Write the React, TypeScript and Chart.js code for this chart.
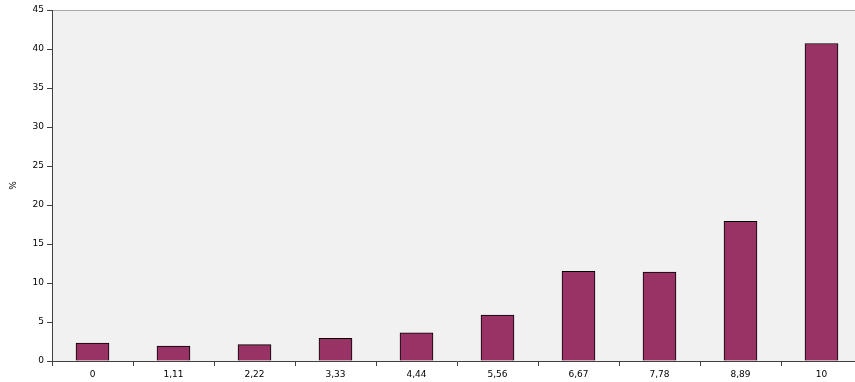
import { useEffect, useRef } from "react";
import { Chart, registerables } from "chart.js";
Chart.register(...registerables);

const categories = ["0", "1,11", "2,22", "3,33", "4,44", "5,56", "6,67", "7,78", "8,89", "10"];
const percentValues = [2.3, 1.9, 2.1, 2.9, 3.6, 5.9, 11.5, 11.4, 17.9, 40.7];
const yMin = 0;
const yMax = 45;
const yStep = 5;

const bgPlugin = {
  id: "plotBg",
  beforeDraw(chart: any) {
    const { ctx, chartArea } = chart;
    const { left, top, right, bottom } = chartArea;
    ctx.save();
    ctx.fillStyle = "#f1f1f1";
    ctx.fillRect(left, top, right - left, bottom - top);
    ctx.strokeStyle = "#a8a8a8";
    ctx.lineWidth = 1;
    ctx.beginPath();
    ctx.moveTo(left, Math.round(top) + 0.5);
    ctx.lineTo(right, Math.round(top) + 0.5);
    ctx.stroke();
    ctx.restore();
  },
};

export default function App() {
  const ref = useRef<HTMLCanvasElement | null>(null);
  useEffect(() => {
    if (!ref.current) return;
    const font = { family: "'DejaVu Sans', sans-serif", size: 9 };
    const chart = new Chart(ref.current, {
      type: "bar",
      data: {
        labels: categories,
        datasets: [
          {
            data: percentValues,
            backgroundColor: "#993366",
            borderColor: "#000000",
            borderWidth: 1,
            barThickness: 33,
            categoryPercentage: 1,
          },
        ],
      },
      options: {
        animation: false,
        responsive: true,
        maintainAspectRatio: false,
        layout: { padding: { top: 10, left: 0, right: 0, bottom: 0 } },
        plugins: { legend: { display: false }, tooltip: { enabled: false } },
        scales: {
          x: {
            grid: {
              display: true,
              drawOnChartArea: false,
              offset: true,
              tickLength: 5,
              color: "#404040",
            },
            border: { color: "#404040", width: 1 },
            ticks: { font, color: "#000", padding: 3, maxRotation: 0 },
            afterFit(scale: any) {
              scale.height = 21;
            },
          },
          y: {
            min: yMin,
            max: yMax,
            grid: {
              display: true,
              drawOnChartArea: false,
              tickLength: 5,
              color: "#404040",
            },
            border: { color: "#404040", width: 1 },
            ticks: { stepSize: yStep, font, color: "#000", padding: 3 },
            title: {
              display: true,
              text: "%",
              font: { family: "'DejaVu Sans', sans-serif", size: 9 },
              color: "#000",
              padding: { top: 8, bottom: 0 },
            },
            afterFit(scale: any) {
              scale.width = 52;
            },
          },
        },
      },
      plugins: [bgPlugin],
    });
    return () => chart.destroy();
  }, []);
  return (
    <div style={{ position: "fixed", left: 0, top: 0, width: 855, height: 382, overflow: "hidden", background: "#fff" }}>
      <div style={{ position: "absolute", left: 0, top: 0, width: 862, height: 382 }}>
        <canvas ref={ref} />
      </div>
    </div>
  );
}
